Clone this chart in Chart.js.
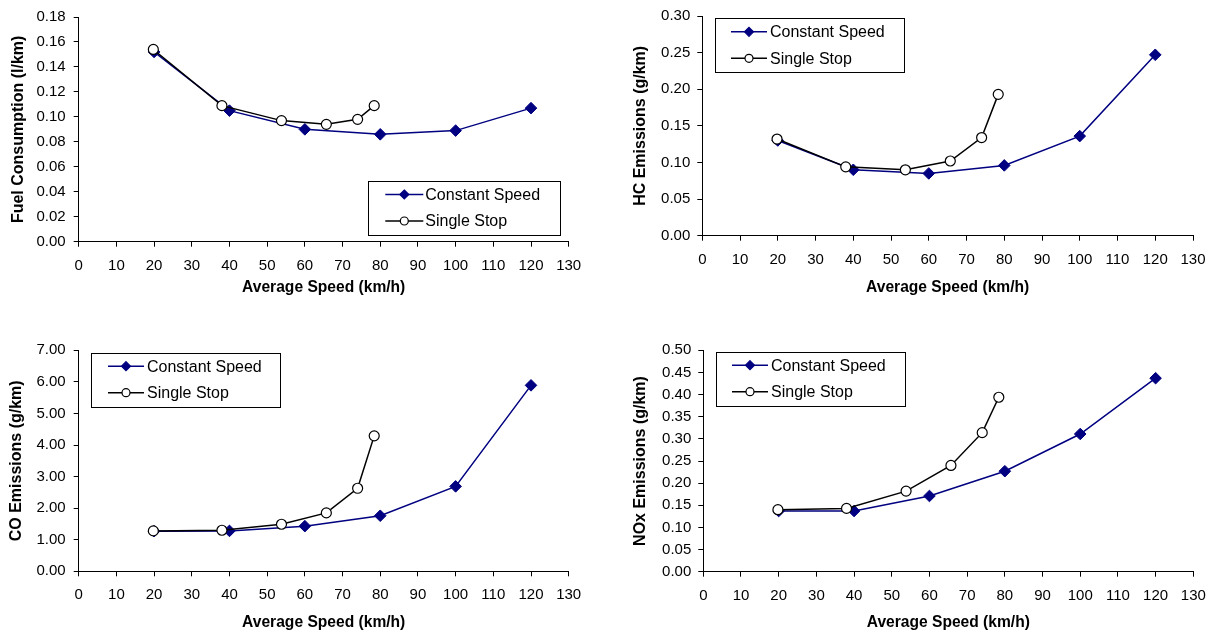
<!DOCTYPE html>
<html>
<head>
<meta charset="utf-8">
<script src="https://cdn.jsdelivr.net/npm/chart.js@4.4.1/dist/chart.umd.min.js"></script>
<style>
  html, body { margin: 0; padding: 0; background: #fff; }
  #wrap { position: relative; width: 1217px; height: 637px; }
  canvas { position: absolute; }
</style>
</head>
<body>
<div id="wrap">
  <canvas id="fuel" width="600" height="318" style="left:0;top:0"></canvas>
  <canvas id="hc" width="607" height="318" style="left:610px;top:0"></canvas>
  <canvas id="co" width="600" height="319" style="left:0;top:318px"></canvas>
  <canvas id="nox" width="607" height="319" style="left:610px;top:318px"></canvas>
</div>
<script>
// speeds (km/h)
const speedConst = [20, 40, 60, 80, 100, 120];
const speedStop = [19.8, 38, 53.8, 65.7, 74, 78.4];

// values
const fuelConst = [0.152, 0.105, 0.090, 0.086, 0.089, 0.107];
const fuelStop = [0.154, 0.109, 0.097, 0.094, 0.098, 0.109];
const hcConst = [0.130, 0.090, 0.085, 0.096, 0.136, 0.247];
const hcStop = [0.132, 0.094, 0.090, 0.102, 0.134, 0.193];
const coConst = [1.27, 1.28, 1.43, 1.76, 2.69, 5.89];
const coStop = [1.28, 1.30, 1.49, 1.85, 2.63, 4.29];
const noxConst = [0.137, 0.137, 0.171, 0.227, 0.311, 0.437];
const noxStop = [0.140, 0.143, 0.182, 0.240, 0.314, 0.394];

// y axis: [max, step]
const fuelAxis = [0.18, 0.02];
const hcAxis = [0.30, 0.05];
const coAxis = [7, 1];
const noxAxis = [0.50, 0.05];
// x axis: [min, max, step]
const speedAxis = [0, 130, 10];

const seriesNames = ['Constant Speed', 'Single Stop'];
const FONT = '"Liberation Sans", Arial, sans-serif';

const pts = (xs, ys) => xs.map((x, i) => ({ x: x, y: ys[i] }));

// legend drawn as a framed box inside the plot, like the original
const boxLegend = {
  id: 'boxLegend',
  afterDraw(chart, args, opts) {
    const ctx = chart.ctx;
    const { x, y, w, h, l0, l1, tx } = opts;
    ctx.save();
    ctx.fillStyle = '#fff';
    ctx.fillRect(x, y, w, h);
    ctx.strokeStyle = '#000';
    ctx.lineWidth = 1;
    ctx.strokeRect(Math.round(x) + 0.5, Math.round(y) + 0.5, w, h);
    ctx.font = '16px ' + FONT;
    ctx.textBaseline = 'middle';
    chart.data.datasets.forEach((ds, i) => {
      const ry = y + 13.5 + i * 26.5;
      const cx = x + (l0 + l1) / 2;
      ctx.strokeStyle = ds.borderColor;
      ctx.lineWidth = ds.borderWidth;
      ctx.beginPath();
      ctx.moveTo(x + l0, ry);
      ctx.lineTo(x + l1, ry);
      ctx.stroke();
      ctx.lineWidth = 1.2;
      ctx.fillStyle = ds.pointBackgroundColor;
      ctx.strokeStyle = ds.pointBorderColor;
      ctx.beginPath();
      if (ds.pointStyle === 'rectRot') {
        const r = 4.5;
        ctx.moveTo(cx, ry - r); ctx.lineTo(cx + r, ry);
        ctx.lineTo(cx, ry + r); ctx.lineTo(cx - r, ry);
        ctx.closePath();
      } else {
        ctx.arc(cx, ry, 4, 0, Math.PI * 2);
      }
      ctx.fill();
      ctx.stroke();
      ctx.fillStyle = '#000';
      ctx.fillText(ds.label, x + tx, ry + 1);
    });
    ctx.restore();
  }
};

function makeChart(id, yTitle, constVals, stopVals, yAxis, lay) {
  const ctx = document.getElementById(id).getContext('2d');
  return new Chart(ctx, {
    type: 'line',
    data: {
      datasets: [
        {
          label: seriesNames[0],
          data: pts(speedConst, constVals),
          borderColor: '#000080',
          borderWidth: 1.5,
          pointStyle: 'rectRot',
          pointRadius: 5.8,
          pointBackgroundColor: '#000080',
          pointBorderColor: '#000080',
          pointBorderWidth: 1,
          order: 1,
        },
        {
          label: seriesNames[1],
          data: pts(speedStop, stopVals),
          borderColor: '#000000',
          borderWidth: 1.5,
          pointStyle: 'circle',
          pointRadius: 5,
          pointBackgroundColor: '#ffffff',
          pointBorderColor: '#000000',
          pointBorderWidth: 1.2,
          order: 0,
        },
      ],
    },
    options: {
      responsive: false,
      animation: false,
      clip: false,
      layout: { padding: { left: 0, top: lay.top, right: lay.right, bottom: 0 } },
      plugins: {
        legend: { display: false },
        tooltip: { enabled: false },
        boxLegend: lay.legend,
      },
      scales: {
        x: {
          type: 'linear',
          min: speedAxis[0],
          max: speedAxis[1],
          afterFit: (s) => { s.height = lay.xh; },
          ticks: {
            stepSize: speedAxis[2],
            color: '#000',
            padding: 10,
            maxRotation: 0,
            font: { family: FONT, size: 15 },
          },
          grid: { drawOnChartArea: false, drawTicks: true, tickLength: 5, color: '#000' },
          border: { display: true, color: '#000', width: 1 },
          title: {
            display: true,
            text: 'Average Speed (km/h)',
            color: '#000',
            font: { family: FONT, size: 15.6, weight: 'bold' },
            padding: { top: 0, bottom: lay.xtp },
          },
        },
        y: {
          min: 0,
          max: yAxis[0],
          afterFit: (s) => { s.width = lay.yw; },
          ticks: {
            stepSize: yAxis[1],
            color: '#000',
            padding: lay.ytick,
            font: { family: FONT, size: 15 },
            callback: (v) => v.toFixed(2),
          },
          grid: { drawOnChartArea: false, drawTicks: true, tickLength: 5, color: '#000' },
          border: { display: true, color: '#000', width: 1 },
          title: {
            display: true,
            text: yTitle,
            color: '#000',
            font: { family: FONT, size: 16, weight: 'bold' },
            padding: { top: lay.ytp, bottom: 0 },
          },
        },
      },
    },
    plugins: [boxLegend],
  });
}

makeChart('fuel', 'Fuel Consumption (l/km)', fuelConst, fuelStop, fuelAxis,
  { top: 15.3, right: 31.3, yw: 78.7, xh: 76.3, xtp: 20.5, ytp: 8.5, ytick: 8,
    legend: { x: 368.3, y: 181, w: 192, h: 54, l0: 17, l1: 55, tx: 57 } });
makeChart('hc', 'HC Emissions (g/km)', hcConst, hcStop, hcAxis,
  { top: 15.3, right: 24, yw: 92.3, xh: 82.3, xtp: 20.5, ytp: 21, ytick: 7,
    legend: { x: 105, y: 18.3, w: 189, h: 54, l0: 16, l1: 52, tx: 55 } });
makeChart('co', 'CO Emissions (g/km)', coConst, coStop, coAxis,
  { top: 32.3, right: 31.3, yw: 78.7, xh: 65.7, xtp: 4.5, ytp: 6.5, ytick: 8,
    legend: { x: 91, y: 34.7, w: 189, h: 54, l0: 17, l1: 53, tx: 56 } });
makeChart('nox', 'NOx Emissions (g/km)', noxConst, noxStop, noxAxis,
  { top: 32.3, right: 23.7, yw: 93.3, xh: 65.3, xtp: 4.5, ytp: 20.5, ytick: 7,
    legend: { x: 106, y: 33.7, w: 189, h: 54, l0: 16, l1: 52, tx: 55 } });
</script>
</body>
</html>
